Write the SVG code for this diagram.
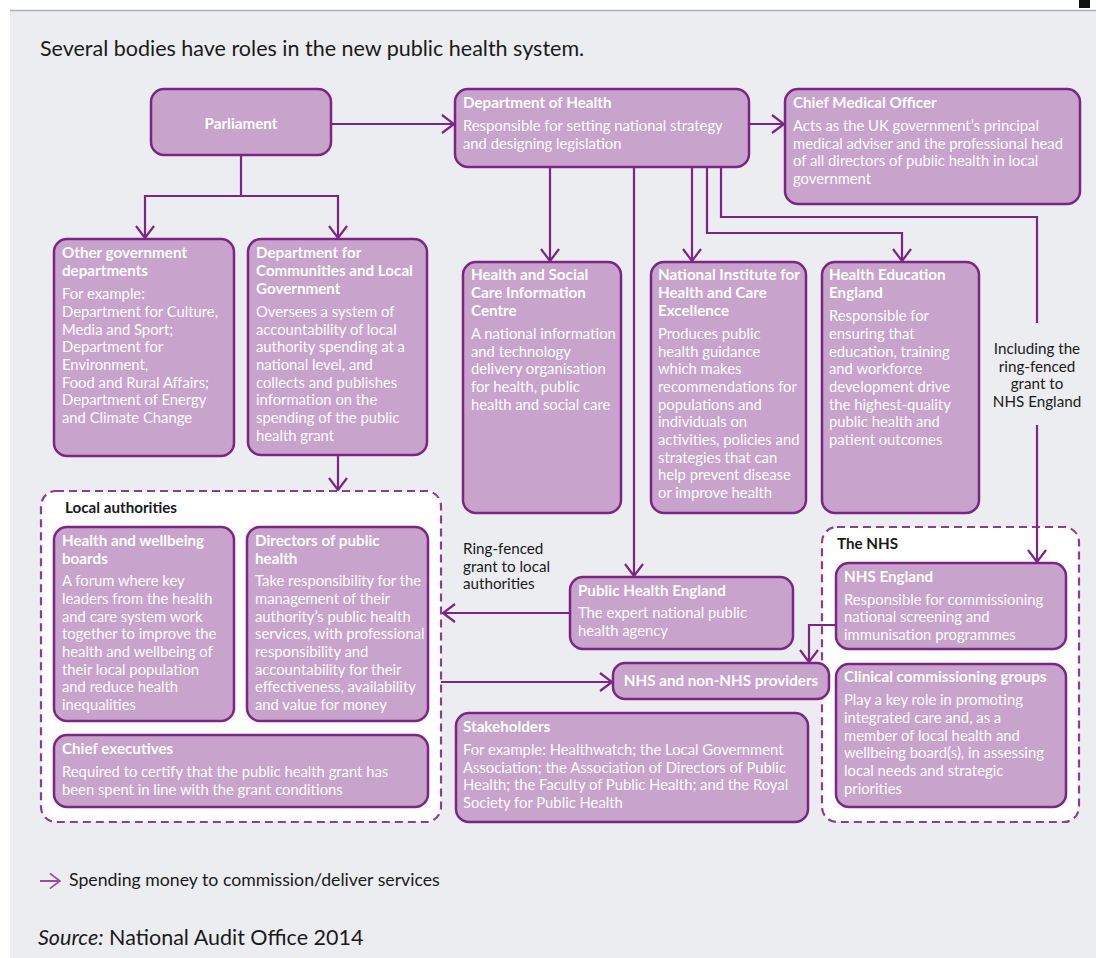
<svg xmlns="http://www.w3.org/2000/svg" width="1096" height="958" viewBox="0 0 1096 958">
<style>
.node{fill:#c8a3cc;stroke:#7b2585;stroke-width:2.5}
.grp{fill:#ffffff;stroke:#8b3d93;stroke-width:2.2;stroke-dasharray:8 5}
.t{font-family:Lato,"Liberation Sans",sans-serif;font-weight:bold;font-size:15.2px;fill:#ffffff}
.b{font-family:Lato,"Liberation Sans",sans-serif;font-size:14.8px;fill:#ffffff}
.k{font-family:Lato,"Liberation Sans",sans-serif;font-size:15.2px;fill:#1a1a1a}
.kb{font-family:Lato,"Liberation Sans",sans-serif;font-weight:bold;font-size:15.2px;fill:#1a1a1a}
.c{fill:none;stroke:#7b2585;stroke-width:2.2}
</style>
<defs>
<marker id="arr" viewBox="0 0 14 20" refX="13" refY="10" markerWidth="14" markerHeight="20" orient="auto" markerUnits="userSpaceOnUse">
<path d="M1,1 L13,10 L1,19" fill="none" stroke="#7b2585" stroke-width="2.2"/>
</marker>
<marker id="arrl" viewBox="0 0 14 20" refX="13" refY="10" markerWidth="12" markerHeight="17" orient="auto" markerUnits="userSpaceOnUse">
<path d="M1,1 L13,10 L1,19" fill="none" stroke="#9b4aa3" stroke-width="2"/>
</marker>
</defs>
<rect x="0" y="0" width="1096" height="958" fill="#ffffff"/>
<rect x="10" y="10" width="1086" height="948" fill="#ecedf0"/>
<line x1="10" y1="10.5" x2="1096" y2="10.5" stroke="#b0b0b0" stroke-width="1.5"/>
<rect x="1079" y="0" width="11" height="8" fill="#111111"/>

<text x="40" y="56" font-family="Lato,'Liberation Sans',sans-serif" font-size="21.5" fill="#1a1a1a">Several bodies have roles in the new public health system.</text>

<g id="local-authorities">
<rect class="grp" x="41" y="491" width="400" height="331" rx="15"/>
<text class="kb" x="65" y="513">Local authorities</text>
</g>

<g id="the-nhs">
<rect class="grp" x="822" y="527" width="257" height="295" rx="15"/>
<text class="kb" x="837" y="549">The NHS</text>
</g>

<g id="connectors">
<path class="c" d="M331,124 H454" marker-end="url(#arr)"/>
<path class="c" d="M749,124 H784" marker-end="url(#arr)"/>
<path class="c" d="M241,155 V196"/>
<path class="c" d="M241,196 H145 V238" marker-end="url(#arr)"/>
<path class="c" d="M241,196 H338 V238" marker-end="url(#arr)"/>
<path class="c" d="M338,455 V490" marker-end="url(#arr)"/>
<path class="c" d="M550,167 V261" marker-end="url(#arr)"/>
<path class="c" d="M634,167 V576" marker-end="url(#arr)"/>
<path class="c" d="M692,167 V261" marker-end="url(#arr)"/>
<path class="c" d="M707,167 V233 H902 V261" marker-end="url(#arr)"/>
<path class="c" d="M721,167 V217 H1037 V323"/>
<path class="c" d="M1037,425 V562" marker-end="url(#arr)"/>
<path class="c" d="M570,613 H443" marker-end="url(#arr)"/>
<path class="c" d="M441,682 H612" marker-end="url(#arr)"/>
<path class="c" d="M836,625 H809 V662" marker-end="url(#arr)"/>
</g>

<g id="parliament">
<rect class="node" x="151" y="89" width="180" height="66" rx="13"/>
<text class="t" x="241" y="129" text-anchor="middle">Parliament</text>
</g>

<g id="doh">
<rect class="node" x="455" y="89" width="294" height="78" rx="13"/>
<text class="t" x="463" y="108">Department of Health</text>
<text class="b" x="463" y="131">Responsible for setting national strategy</text>
<text class="b" x="463" y="148.5">and designing legislation</text>
</g>

<g id="cmo">
<rect class="node" x="785" y="89" width="295" height="115" rx="13"/>
<text class="t" x="793" y="108">Chief Medical Officer</text>
<text class="b" x="793" y="131">Acts as the UK government’s principal</text>
<text class="b" x="793" y="148.5">medical adviser and the professional head</text>
<text class="b" x="793" y="166">of all directors of public health in local</text>
<text class="b" x="793" y="184">government</text>
</g>

<g id="ogd">
<rect class="node" x="54" y="239" width="180" height="217" rx="13"/>
<text class="t" x="62" y="258">Other government</text>
<text class="t" x="62" y="276">departments</text>
<text class="b" x="62" y="299">For example:</text>
<text class="b" x="62" y="317">Department for Culture,</text>
<text class="b" x="62" y="334.5">Media and Sport;</text>
<text class="b" x="62" y="352">Department for</text>
<text class="b" x="62" y="370">Environment,</text>
<text class="b" x="62" y="387.5">Food and Rural Affairs;</text>
<text class="b" x="62" y="405">Department of Energy</text>
<text class="b" x="62" y="423">and Climate Change</text>
</g>

<g id="dclg">
<rect class="node" x="248" y="239" width="179" height="216" rx="13"/>
<text class="t" x="256" y="258">Department for</text>
<text class="t" x="256" y="276">Communities and Local</text>
<text class="t" x="256" y="293.5">Government</text>
<text class="b" x="256" y="317">Oversees a system of</text>
<text class="b" x="256" y="334.5">accountability of local</text>
<text class="b" x="256" y="352">authority spending at a</text>
<text class="b" x="256" y="370">national level, and</text>
<text class="b" x="256" y="387.5">collects and publishes</text>
<text class="b" x="256" y="405">information on the</text>
<text class="b" x="256" y="423">spending of the public</text>
<text class="b" x="256" y="440.5">health grant</text>
</g>

<g id="hscic">
<rect class="node" x="463" y="262" width="158" height="251" rx="13"/>
<text class="t" x="471" y="280">Health and Social</text>
<text class="t" x="471" y="298">Care Information</text>
<text class="t" x="471" y="315.5">Centre</text>
<text class="b" x="471" y="339">A national information</text>
<text class="b" x="471" y="356.5">and technology</text>
<text class="b" x="471" y="374">delivery organisation</text>
<text class="b" x="471" y="392">for health, public</text>
<text class="b" x="471" y="409.5">health and social care</text>
</g>

<g id="nice">
<rect class="node" x="651" y="262" width="155" height="251" rx="13"/>
<text class="t" x="658" y="280">National Institute for</text>
<text class="t" x="658" y="298">Health and Care</text>
<text class="t" x="658" y="315.5">Excellence</text>
<text class="b" x="658" y="339">Produces public</text>
<text class="b" x="658" y="356.5">health guidance</text>
<text class="b" x="658" y="374">which makes</text>
<text class="b" x="658" y="392">recommendations for</text>
<text class="b" x="658" y="409.5">populations and</text>
<text class="b" x="658" y="427">individuals on</text>
<text class="b" x="658" y="445">activities, policies and</text>
<text class="b" x="658" y="462.5">strategies that can</text>
<text class="b" x="658" y="480">help prevent disease</text>
<text class="b" x="658" y="498">or improve health</text>
</g>

<g id="hee">
<rect class="node" x="822" y="262" width="157" height="251" rx="13"/>
<text class="t" x="829" y="280">Health Education</text>
<text class="t" x="829" y="298">England</text>
<text class="b" x="829" y="321">Responsible for</text>
<text class="b" x="829" y="339">ensuring that</text>
<text class="b" x="829" y="356.5">education, training</text>
<text class="b" x="829" y="374">and workforce</text>
<text class="b" x="829" y="392">development drive</text>
<text class="b" x="829" y="409.5">the highest-quality</text>
<text class="b" x="829" y="427">public health and</text>
<text class="b" x="829" y="445">patient outcomes</text>
</g>

<g id="label-ringfenced-nhs">
<text class="k" x="1037" y="354" text-anchor="middle">Including the</text>
<text class="k" x="1037" y="372" text-anchor="middle">ring-fenced</text>
<text class="k" x="1037" y="389" text-anchor="middle">grant to</text>
<text class="k" x="1037" y="407" text-anchor="middle">NHS England</text>
</g>

<g id="hwb">
<rect class="node" x="54" y="527" width="180" height="194" rx="13"/>
<text class="t" x="62" y="546">Health and wellbeing</text>
<text class="t" x="62" y="563.5">boards</text>
<text class="b" x="62" y="586">A forum where key</text>
<text class="b" x="62" y="604">leaders from the health</text>
<text class="b" x="62" y="621.5">and care system work</text>
<text class="b" x="62" y="639">together to improve the</text>
<text class="b" x="62" y="657">health and wellbeing of</text>
<text class="b" x="62" y="674.5">their local population</text>
<text class="b" x="62" y="692">and reduce health</text>
<text class="b" x="62" y="710">inequalities</text>
</g>

<g id="dph">
<rect class="node" x="247" y="527" width="181" height="194" rx="13"/>
<text class="t" x="255" y="546">Directors of public</text>
<text class="t" x="255" y="563.5">health</text>
<text class="b" x="255" y="586">Take responsibility for the</text>
<text class="b" x="255" y="604">management of their</text>
<text class="b" x="255" y="621.5">authority’s public health</text>
<text class="b" x="255" y="639">services, with professional</text>
<text class="b" x="255" y="657">responsibility and</text>
<text class="b" x="255" y="674.5">accountability for their</text>
<text class="b" x="255" y="692">effectiveness, availability</text>
<text class="b" x="255" y="710">and value for money</text>
</g>

<g id="chief-executives">
<rect class="node" x="54" y="735" width="374" height="72" rx="13"/>
<text class="t" x="62" y="754">Chief executives</text>
<text class="b" x="62" y="777">Required to certify that the public health grant has</text>
<text class="b" x="62" y="795">been spent in line with the grant conditions</text>
</g>

<g id="label-ringfenced-la">
<text class="k" x="463" y="554">Ring-fenced</text>
<text class="k" x="463" y="572">grant to local</text>
<text class="k" x="463" y="589">authorities</text>
</g>

<g id="phe">
<rect class="node" x="570" y="577" width="223" height="72" rx="13"/>
<text class="t" x="578" y="596">Public Health England</text>
<text class="b" x="578" y="618">The expert national public</text>
<text class="b" x="578" y="636">health agency</text>
</g>

<g id="providers">
<rect class="node" x="613" y="663" width="216" height="36" rx="12"/>
<text class="t" x="721" y="686" text-anchor="middle">NHS and non-NHS providers</text>
</g>

<g id="stakeholders">
<rect class="node" x="456" y="713" width="352" height="109" rx="13"/>
<text class="t" x="463" y="732">Stakeholders</text>
<text class="b" x="463" y="755">For example: Healthwatch; the Local Government</text>
<text class="b" x="463" y="773">Association; the Association of Directors of Public</text>
<text class="b" x="463" y="790">Health; the Faculty of Public Health; and the Royal</text>
<text class="b" x="463" y="808">Society for Public Health</text>
</g>

<g id="nhs-england">
<rect class="node" x="836" y="563" width="230" height="86" rx="13"/>
<text class="t" x="844" y="582">NHS England</text>
<text class="b" x="844" y="604.5">Responsible for commissioning</text>
<text class="b" x="844" y="622">national screening and</text>
<text class="b" x="844" y="640">immunisation programmes</text>
</g>

<g id="ccg">
<rect class="node" x="836" y="664" width="230" height="143" rx="13"/>
<text class="t" x="844" y="682">Clinical commissioning groups</text>
<text class="b" x="844" y="705">Play a key role in promoting</text>
<text class="b" x="844" y="723">integrated care and, as a</text>
<text class="b" x="844" y="740.5">member of local health and</text>
<text class="b" x="844" y="758">wellbeing board(s), in assessing</text>
<text class="b" x="844" y="776">local needs and strategic</text>
<text class="b" x="844" y="793.5">priorities</text>
</g>

<g id="legend">
<path d="M40,881 H60" fill="none" stroke="#9b4aa3" stroke-width="2" marker-end="url(#arrl)"/>
<text x="69" y="886" font-family="Lato,'Liberation Sans',sans-serif" font-size="17.7" fill="#1a1a1a">Spending money to commission/deliver services</text>
</g>

<text x="38" y="945" font-family="Lato,'Liberation Sans',sans-serif" font-size="21.5" fill="#1a1a1a"><tspan font-style="italic">Source:</tspan> National Audit Office 2014</text>
</svg>
